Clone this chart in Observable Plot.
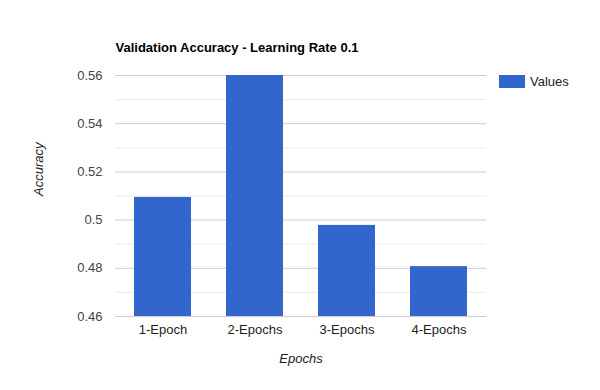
<!DOCTYPE html>
<html>
<head>
<meta charset="utf-8">
<script src="https://cdn.jsdelivr.net/npm/d3@7"></script>
<script src="https://cdn.jsdelivr.net/npm/@observablehq/plot@0.6"></script>
<style>
  html, body { margin: 0; padding: 0; background: #fff; }
  #wrap { position: relative; width: 600px; height: 390px; font-family: Arial, "Liberation Sans", sans-serif; }
  #legend { position: absolute; left: 499px; top: 74px; display: flex; align-items: center; font-size: 13px; color: #222; }
  #legend .sw { width: 26px; height: 13px; background: #3366cc; margin-right: 5px; }
</style>
</head>
<body>
<div id="wrap"></div>
<script>
const title = "Validation Accuracy - Learning Rate 0.1";
const categories = ["1-Epoch", "2-Epochs", "3-Epochs", "4-Epochs"];
const values = [0.5094, 0.56, 0.4978, 0.4807];
const seriesName = "Values";
const yMajorTicks = [0.46, 0.48, 0.5, 0.52, 0.54, 0.56];
const yMinorTicks = [0.47, 0.49, 0.51, 0.53, 0.55];
const xLabel = "Epochs";
const yLabel = "Accuracy";

const data = categories.map((c, i) => ({ category: c, value: values[i] }));

const chart = Plot.plot({
  width: 600,
  height: 390,
  marginLeft: 115,
  marginRight: 114,
  marginTop: 75,
  marginBottom: 74,
  style: { fontFamily: "Arial, 'Liberation Sans', sans-serif", fontSize: "13px", background: "#fff", overflow: "visible" },
  x: { domain: categories, paddingInner: 0.385, paddingOuter: 0.1925, label: null },
  y: { domain: [0.46, 0.56], label: null },
  marks: [
    Plot.ruleY(yMinorTicks, { stroke: "#ebebeb", strokeWidth: 1 }),
    Plot.ruleY(yMajorTicks, { stroke: "#cccccc", strokeWidth: 1 }),
    Plot.barY(data, { x: "category", y1: 0.46, y2: "value", fill: "#3366cc" }),
    Plot.axisY(yMajorTicks, { tickSize: 0, tickPadding: 13, fontSize: 13, fill: "#444", tickFormat: d => String(+d.toFixed(2)), label: null }),
    Plot.axisX({ tickSize: 0, tickPadding: 8, fontSize: 13, fill: "#222", label: null }),
    Plot.text([title], { frameAnchor: "top-left", dy: -28, text: d => d, textAnchor: "start", lineAnchor: "middle", fontWeight: "bold", fontSize: 13, fill: "#000" }),
    Plot.text([yLabel], { frameAnchor: "left", dx: -77, rotate: -90, text: d => d, fontStyle: "italic", fontSize: 13, fill: "#222" }),
    Plot.text([xLabel], { frameAnchor: "bottom", dy: 46, text: d => d, fontStyle: "italic", fontSize: 13, fill: "#222" })
  ]
});

const wrap = document.getElementById("wrap");
wrap.appendChild(chart);
const legend = document.createElement("div");
legend.id = "legend";
legend.innerHTML = `<div class="sw"></div><span></span>`;
legend.querySelector("span").textContent = seriesName;
wrap.appendChild(legend);
</script>
</body>
</html>
